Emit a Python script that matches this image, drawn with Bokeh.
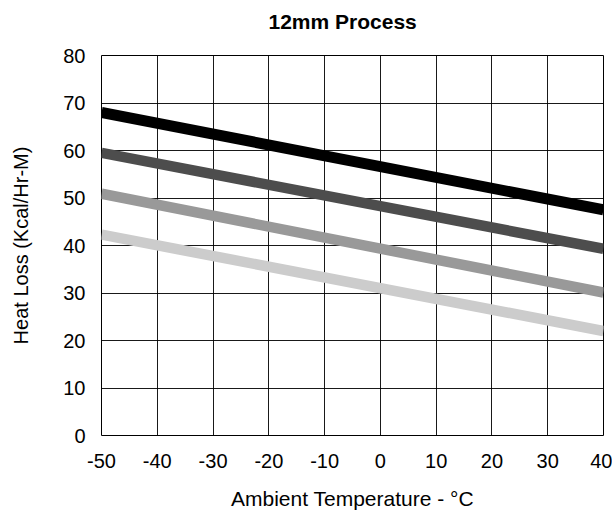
from bokeh.plotting import figure
from bokeh.models import Range1d, FixedTicker
from bokeh.embed import file_html
from bokeh.resources import INLINE

# Data (lines are straight between the ends)
temps = [-50, 40]
loss_black = [68.0, 47.5]
loss_dark = [59.5, 39.3]
loss_mid = [50.9, 30.1]
loss_light = [42.3, 22.0]
x_ticks = [-50, -40, -30, -20, -10, 0, 10, 20, 30, 40]
y_ticks = [0, 10, 20, 30, 40, 50, 60, 70, 80]
title_text = "12mm Process"

series = [
    (loss_black, "#000000", 11),
    (loss_dark, "#4d4d4d", 10.5),
    (loss_mid, "#999999", 10.5),
    (loss_light, "#cccccc", 10.5),
]

FONT = "Liberation Sans"

p = figure(width=612, height=512, output_backend="svg", toolbar_location=None,
           x_range=Range1d(-50, 40), y_range=Range1d(0, 80),
           min_border_left=101, min_border_right=9,
           min_border_top=55, min_border_bottom=77,
           background_fill_color="white", border_fill_color="white")

# a second, empty line lifts the title towards the top of the page
p.title.text = title_text + "\n"
p.title.text_font = FONT
p.title.text_font_size = "21px"
p.title.text_font_style = "bold"
p.title.text_color = "#000000"
p.title.text_line_height = 1.0
p.title.align = "left"
p.title.offset = 167
p.title.vertical_align = "bottom"
p.title.standoff = 0

for vals, col, lw in series:
    p.line(temps, vals, line_color=col, line_width=lw, line_cap="butt")

p.xaxis.ticker = FixedTicker(ticks=x_ticks)
p.yaxis.ticker = FixedTicker(ticks=y_ticks)
p.xgrid.ticker = FixedTicker(ticks=x_ticks)
p.ygrid.ticker = FixedTicker(ticks=y_ticks)
p.xaxis.major_label_overrides = {t: str(t) for t in x_ticks}
p.yaxis.major_label_overrides = {t: str(t) for t in y_ticks}

for g in (p.xgrid, p.ygrid):
    g.grid_line_color = "#000000"
    g.grid_line_width = 1
    g.grid_line_alpha = 0.9

p.outline_line_color = "#000000"
p.outline_line_width = 1

for ax in (p.xaxis, p.yaxis):
    ax.axis_line_color = None
    ax.major_tick_line_color = None
    ax.minor_tick_line_color = None
    ax.major_tick_in = 0
    ax.major_tick_out = 0
    ax.minor_tick_out = 0
    ax.major_label_text_font = FONT
    ax.major_label_text_font_size = "20px"
    ax.major_label_text_color = "#000000"
    ax.axis_label_text_font = FONT
    ax.axis_label_text_font_style = "normal"
    ax.axis_label_text_color = "#000000"

p.xaxis.axis_label = "Ambient Temperature - °C"
p.yaxis.axis_label = "Heat Loss (Kcal/Hr-M)"
p.xaxis.axis_label_text_font_size = "21px"
p.yaxis.axis_label_text_font_size = "20px"
p.xaxis.major_label_standoff = 18
p.xaxis.axis_label_standoff = 16
p.yaxis.major_label_standoff = 16
p.yaxis.axis_label_standoff = 28

open("out.html", "w").write(file_html(p, INLINE))
